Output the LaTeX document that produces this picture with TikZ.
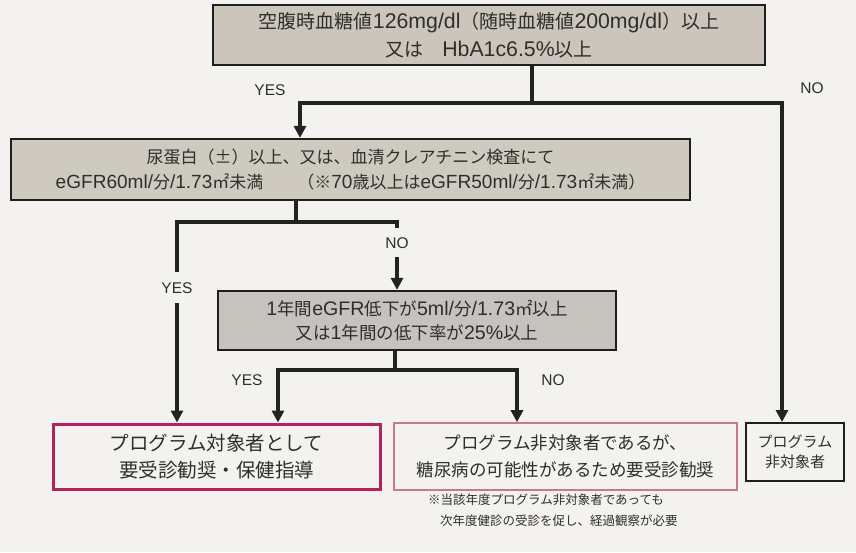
\documentclass[tikz,border=0pt]{standalone}
\usepackage{fontspec}
\setmainfont{Noto Sans CJK JP}
\newfontfamily\latf[Scale=1.12]{Liberation Sans}
\newfontfamily\labf{Liberation Sans}
\usetikzlibrary{arrows.meta}
\definecolor{bg}{HTML}{F4F2EE}
\definecolor{edge}{HTML}{1E1E1E}
\definecolor{ln}{HTML}{222222}
\definecolor{txt}{HTML}{2E2E2E}
\definecolor{fillA}{HTML}{CBC5BB}
\definecolor{fillB}{HTML}{CFCABF}
\definecolor{fillC}{HTML}{C6C2BD}
\definecolor{magA}{HTML}{B3245E}
\definecolor{magB}{HTML}{C47A96}
\begin{document}
\begin{tikzpicture}[x=1pt,y=1pt,
  greybox/.style={draw=edge, line width=2.2pt, align=center, text=txt, inner sep=0pt},
  conn/.style={draw=ln, line width=3.5pt, line join=miter},
  arr/.style={conn, -{Triangle[width=12pt,length=12pt]}},
  lbl/.style={font=\labf\fontsize{15.5}{18}\selectfont, text=txt, inner sep=0pt},
  gaplbl/.style={lbl, fill=bg, minimum width=34pt}
]
\fill[bg] (0,0) rectangle (856,552);
\useasboundingbox (0,0) rectangle (856,552);

% boxes
\node[greybox, fill=fillA, minimum width=552pt, minimum height=60pt,
  font=\fontsize{19}{28}\selectfont] (b1) at (489,517)
  {空腹時血糖値{\latf 126mg/dl}（随時血糖値{\latf 200mg/dl}）以上\\又は　{\latf HbA1c6.5\%}以上};
\node[greybox, fill=fillB, minimum width=679pt, minimum height=61pt,
  font=\fontsize{17}{25}\selectfont] (b2) at (350.5,382.5)
  {尿蛋白（±）以上、又は、血清クレアチニン検査にて\\{\latf eGFR60ml/}分{\latf /1.73}㎡未満　　（※{\latf 70}歳以上は{\latf eGFR50ml/}分{\latf /1.73}㎡未満）};
\node[greybox, fill=fillC, minimum width=398pt, minimum height=59pt,
  font=\fontsize{17.5}{24}\selectfont] (b3) at (417,231.5)
  {{\latf 1}年間{\latf eGFR}低下が{\latf 5ml/}分{\latf /1.73}㎡以上\\又は{\latf 1}年間の低下率が{\latf 25\%}以上};
\node[draw=magA, line width=3pt, minimum width=327pt, minimum height=65pt, align=center,
  text=txt, font=\fontsize{19.5}{27}\selectfont, inner sep=0pt] (b4) at (216.5,95.5)
  {プログラム対象者として\\要受診勧奨・保健指導};
\node[draw=magB, line width=1.6pt, minimum width=343pt, minimum height=67pt, align=center,
  text=txt, font=\fontsize{17.5}{27}\selectfont, inner sep=0pt] (b5) at (565.5,95.5)
  {プログラム非対象者であるが、\\糖尿病の可能性があるため要受診勧奨};
\node[draw=edge, line width=2pt, minimum width=98pt, minimum height=58pt, align=center,
  text=txt, font=\fontsize{15}{20}\selectfont, inner sep=0pt] (b6) at (795,100)
  {プログラム\\非対象者};

% note
\node[anchor=west, text=txt, font=\fontsize{12.5}{15}\selectfont, inner sep=0pt] (n1) at (428,52)
  {※当該年度プログラム非対象者であっても};
\node[anchor=west, text=txt, font=\fontsize{12.5}{15}\selectfont, inner sep=0pt] (n2) at (440,31)
  {次年度健診の受診を促し、経過観察が必要};

% junctions
\coordinate (j1) at (532,449);
\coordinate (j1L) at (300,449);
\coordinate (j1R) at (782,449);
\coordinate (j2) at (296,330);
\coordinate (j2L) at (177,330);
\coordinate (j2R) at (397,330);
\coordinate (j3) at (395,182);
\coordinate (j3L) at (278,182);
\coordinate (j3R) at (517,182);

% connectors level 1
\draw[conn] (b1.south -| j1) -- (j1);
\draw[arr] (j1) -| (j1L |- b2.north);
\draw[arr] (j1) -| (j1R |- b6.north);
% level 2
\draw[conn] (b2.south -| j2) -- (j2);
\draw[arr] (j2) -| (j2L |- b4.north);
\draw[arr] (j2) -| (j2R |- b3.north);
% level 3
\draw[conn] (b3.south -| j3) -- (j3);
\draw[arr] (j3) -| (j3L |- b4.north);
\draw[arr] (j3) -| (j3R |- b5.north);

% labels
\node[lbl] (y1) at (270,462) {YES};
\node[lbl] (no1) at (812,464) {NO};
\node[gaplbl, minimum height=31pt] (y2) at (177,264) {YES};
\node[gaplbl, minimum height=29pt] (no2) at (397,309) {NO};
\node[lbl] (y3) at (247,172) {YES};
\node[lbl] (no3) at (553,172) {NO};
\end{tikzpicture}
\end{document}
